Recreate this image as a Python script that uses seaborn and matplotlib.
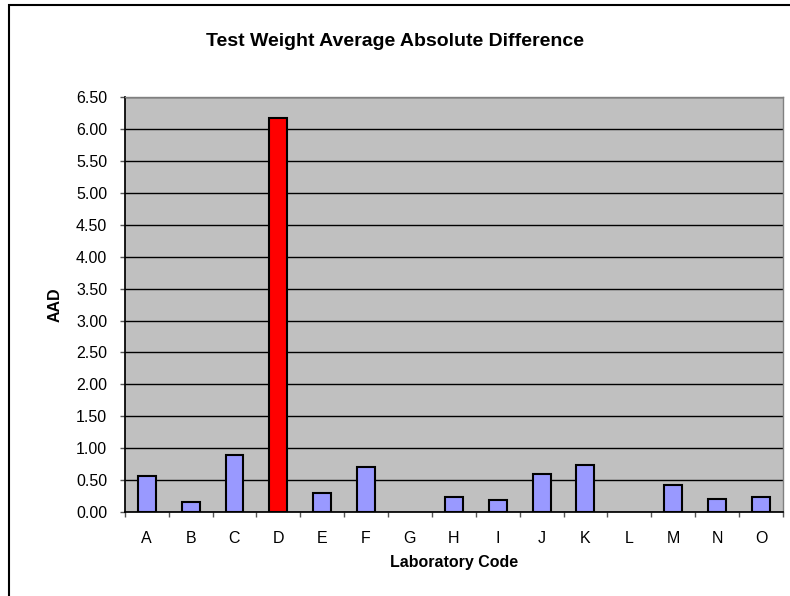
import numpy as np
import pandas as pd
import matplotlib
matplotlib.use("Agg")
import matplotlib.pyplot as plt
import seaborn as sns
from matplotlib.patches import Rectangle

# -------------------- Data --------------------
labs = ["A", "B", "C", "D", "E", "F", "G", "H", "I", "J", "K", "L", "M", "N", "O"]
aad = [0.57, 0.16, 0.89, 6.17, 0.30, 0.70, np.nan, 0.24, 0.18, 0.60, 0.73, np.nan, 0.42, 0.21, 0.23]
y_ticks = [0.0, 0.5, 1.0, 1.5, 2.0, 2.5, 3.0, 3.5, 4.0, 4.5, 5.0, 5.5, 6.0, 6.5]
flagged = ["D"]

df = pd.DataFrame({"lab": labs, "aad": aad}).dropna()
palette = {l: ("#FF0000" if l in flagged else "#9999FF") for l in labs}

# -------------------- Plot --------------------
sns.set_theme(style="white")
plt.rcParams["font.family"] = ["Liberation Sans", "DejaVu Sans"]
plt.rcParams["text.color"] = "black"
plt.rcParams["axes.labelcolor"] = "black"

fig = plt.figure(figsize=(7.9, 5.96), dpi=100)
ax = fig.add_axes([0.158, 0.141, 0.833, 0.696])
ax.set_facecolor("#C0C0C0")

sns.barplot(data=df, x="lab", y="aad", hue="lab", order=labs, hue_order=labs,
            palette=palette, saturation=1, width=0.41, edgecolor="black",
            linewidth=1.5, legend=False, ax=ax, zorder=3)

ax.set_ylim(0, 6.5)
ax.set_xlim(-0.5, len(labs) - 0.5)
ax.set_yticks(y_ticks)
ax.set_yticklabels([f"{v:.2f}" for v in y_ticks], fontsize=11.5)
ax.yaxis.grid(True, color="black", linewidth=1)
ax.set_axisbelow(True)

# ticks sit between categories, labels centred on bars
ax.set_xticks(np.arange(len(labs)))
ax.set_xticklabels(labs, fontsize=11.5)
ax.tick_params(axis="x", length=0, pad=14, labelcolor="black")
ax.set_xticks(np.arange(len(labs) + 1) - 0.5, minor=True)
ax.tick_params(axis="x", which="minor", length=3.6, width=1, color="#555555", direction="out", bottom=True)
ax.tick_params(axis="y", length=3.6, width=1, color="#555555", direction="out", left=True, pad=9,
               labelcolor="black")

for s in ["top", "right"]:
    ax.spines[s].set_color("#808080")
    ax.spines[s].set_linewidth(1)
ax.spines["left"].set_color("black")
ax.spines["bottom"].set_color("black")

ax.set_xlabel("Laboratory Code", fontsize=11.5, fontweight="bold", labelpad=6)
ax.set_ylabel("AAD", fontsize=11.5, fontweight="bold", labelpad=10)
fig.text(0.5, 0.931, "Test Weight Average Absolute Difference", ha="center",
         va="center", fontsize=14, fontweight="bold")

# chart border (only left and top edges fall inside the image)
fig.patches.append(Rectangle((9 / 790, -0.1), 1.2, (591 / 596) + 0.1,
                             transform=fig.transFigure, fill=False,
                             edgecolor="black", linewidth=1.5))

fig.savefig("out.png", dpi=100)
plt.close(fig)
